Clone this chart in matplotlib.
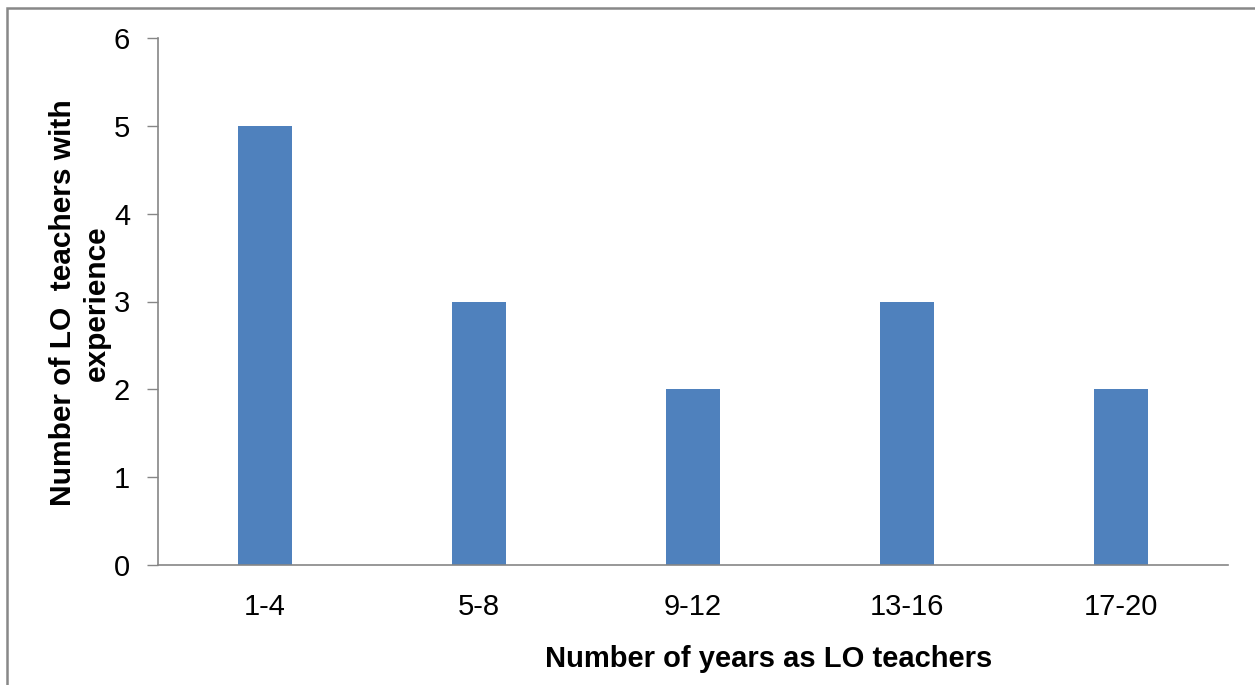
import matplotlib
matplotlib.use("Agg")
import matplotlib.pyplot as plt
from matplotlib.patches import Rectangle
import numpy as np

plt.rcParams['font.family'] = ['Liberation Sans', 'DejaVu Sans']

categories = ['1-4', '5-8', '9-12', '13-16', '17-20']
teachers = [5, 3, 2, 3, 2]

W, H = 1255, 685
fig = plt.figure(figsize=(W / 100, H / 100), dpi=100)
ax = fig.add_axes([158 / W, (H - 565) / H, (1228 - 158) / W, (565 - 38) / H])

x = np.arange(len(categories))
ax.bar(x, teachers, width=0.25, color='#4F81BD', zorder=2)

ax.set_xlim(-0.5, len(categories) - 0.5)
ax.set_ylim(0, 6)
ax.set_yticks(range(0, 7))
ax.set_xticks(x)
ax.set_xticklabels(categories, fontsize=21)
ax.tick_params(axis='y', labelsize=21, length=8, width=1, color='#868686', pad=12)
ax.tick_params(axis='x', length=0, pad=20)

for side in ['top', 'right']:
    ax.spines[side].set_visible(False)
for side in ['left', 'bottom']:
    ax.spines[side].set_color('#868686')
    ax.spines[side].set_linewidth(1.2)

# axis titles sit where the original put them (x title is off-centre)
fig.text(769 / W, (H - 667) / H, 'Number of years as LO teachers', fontsize=21,
         fontweight='bold', ha='center', va='baseline')
fig.text(80 / W, (H - 303) / H, 'Number of LO  teachers with\nexperience', fontsize=21.5,
         fontweight='bold', rotation=90, ha='center', va='center', multialignment='center',
         linespacing=1.25)

# outer frame like the original export
fig.patches.append(Rectangle((7 / W, -0.1), 1.2, (H - 8) / H + 0.1, transform=fig.transFigure,
                             fill=False, edgecolor='#888888', linewidth=1.8))

fig.savefig('out.png', dpi=100)
